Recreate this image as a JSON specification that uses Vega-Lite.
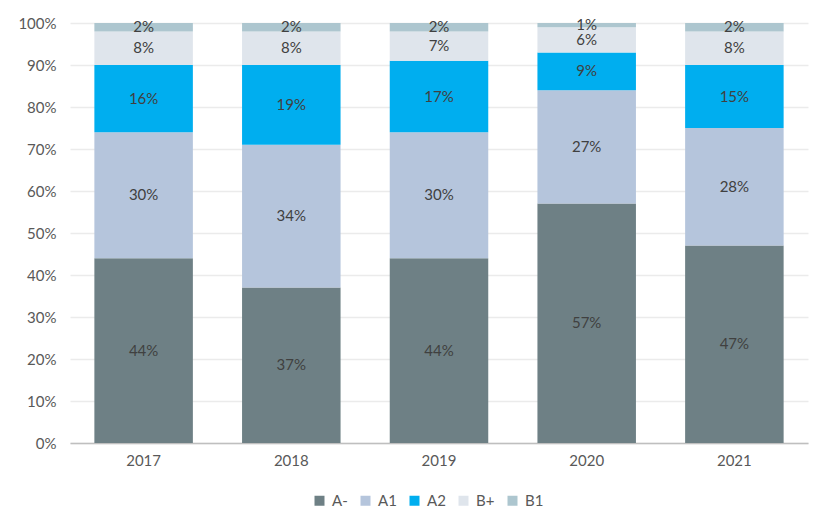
{
  "$schema": "https://vega.github.io/schema/vega-lite/v6.json",
  "autosize": {"type": "none"},
  "width": 738,
  "height": 420,
  "padding": {"left": 70, "top": 23, "right": 19, "bottom": 88},
  "background": "white",
  "config": {
    "font": "Lato",
    "view": {"stroke": null},
    "axis": {"labelFont": "Lato", "labelColor": "#595959", "labelFontSize": 15}
  },
  "data": {
    "values": [
      {"year": "2017", "grade": "A-", "ord": 1, "value": 44},
      {"year": "2017", "grade": "A1", "ord": 2, "value": 30},
      {"year": "2017", "grade": "A2", "ord": 3, "value": 16},
      {"year": "2017", "grade": "B+", "ord": 4, "value": 8},
      {"year": "2017", "grade": "B1", "ord": 5, "value": 2},
      {"year": "2018", "grade": "A-", "ord": 1, "value": 37},
      {"year": "2018", "grade": "A1", "ord": 2, "value": 34},
      {"year": "2018", "grade": "A2", "ord": 3, "value": 19},
      {"year": "2018", "grade": "B+", "ord": 4, "value": 8},
      {"year": "2018", "grade": "B1", "ord": 5, "value": 2},
      {"year": "2019", "grade": "A-", "ord": 1, "value": 44},
      {"year": "2019", "grade": "A1", "ord": 2, "value": 30},
      {"year": "2019", "grade": "A2", "ord": 3, "value": 17},
      {"year": "2019", "grade": "B+", "ord": 4, "value": 7},
      {"year": "2019", "grade": "B1", "ord": 5, "value": 2},
      {"year": "2020", "grade": "A-", "ord": 1, "value": 57},
      {"year": "2020", "grade": "A1", "ord": 2, "value": 27},
      {"year": "2020", "grade": "A2", "ord": 3, "value": 9},
      {"year": "2020", "grade": "B+", "ord": 4, "value": 6},
      {"year": "2020", "grade": "B1", "ord": 5, "value": 1},
      {"year": "2021", "grade": "A-", "ord": 1, "value": 47},
      {"year": "2021", "grade": "A1", "ord": 2, "value": 28},
      {"year": "2021", "grade": "A2", "ord": 3, "value": 15},
      {"year": "2021", "grade": "B+", "ord": 4, "value": 8},
      {"year": "2021", "grade": "B1", "ord": 5, "value": 2}
    ]
  },
  "transform": [
    {"stack": "value", "groupby": ["year"], "sort": [{"field": "ord", "order": "ascending"}], "as": ["y0", "y1"]},
    {"calculate": "(datum.y0 + datum.y1) / 2", "as": "ymid"}
  ],
  "encoding": {
    "x": {
      "field": "year", "type": "nominal", "title": null,
      "scale": {"paddingInner": 0.333, "paddingOuter": 0.165},
      "axis": {"labelAngle": 0, "ticks": false, "domainColor": "#bfbfbf", "domainWidth": 1.5, "labelPadding": 10}
    }
  },
  "layer": [
    {
      "mark": {"type": "bar"},
      "encoding": {
        "y": {
          "field": "y0", "type": "quantitative", "title": null,
          "scale": {"domain": [0, 100]},
          "axis": {"values": [0,10,20,30,40,50,60,70,80,90,100], "labelExpr": "datum.value + '%'", "domain": false, "ticks": false, "gridColor": "#ebebeb", "gridWidth": 1.5, "labelPadding": 14}
        },
        "y2": {"field": "y1"},
        "color": {
          "field": "grade", "type": "nominal",
          "scale": {"domain": ["A-", "A1", "A2", "B+", "B1"], "range": ["#6e8085", "#b5c5dc", "#00aeef", "#dfe5ec", "#adc6cf"]},
          "legend": {"orient": "none", "legendX": 242, "legendY": 470, "direction": "horizontal", "title": null, "symbolType": "square", "symbolSize": 100, "symbolStrokeWidth": 0, "labelFontSize": 15, "labelColor": "#595959", "labelFont": "Lato", "columnPadding": 10, "labelOffset": 5}
        },
        "order": {"field": "ord"}
      }
    },
    {
      "mark": {"type": "text", "fontSize": 15, "color": "#404040", "baseline": "middle"},
      "encoding": {
        "y": {"field": "ymid", "type": "quantitative"},
        "text": {"value": {"expr": "datum.value + '%'"}}
      }
    }
  ]
}
